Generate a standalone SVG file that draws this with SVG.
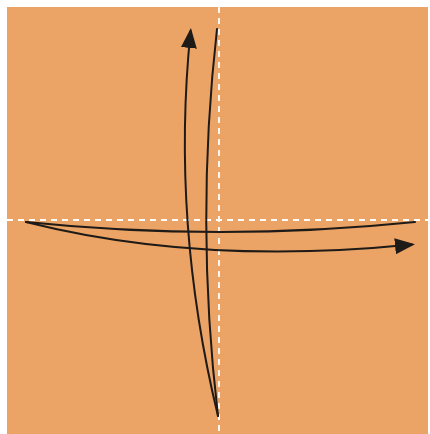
<svg xmlns="http://www.w3.org/2000/svg" width="430" height="434" viewBox="0 0 430 434">
  <defs>
    <style>
      .paper { fill: #EBA465; }
      .crease { stroke: #FFFFFF; stroke-width: 1.8; stroke-dasharray: 6 5; fill: none; }
      .arrow { stroke: #1E1A17; stroke-width: 2; fill: none; stroke-linecap: round; }
    </style>
    <marker id="head" markerUnits="userSpaceOnUse" markerWidth="22" markerHeight="16" refX="17" refY="8" orient="auto">
      <path d="M0,0 L20,8 L0,16 Z" fill="#1E1A17"/>
    </marker>
  </defs>
  <g id="paper">
    <rect class="paper" x="7" y="7" width="421" height="427"/>
  </g>
  <g id="creases">
    <line class="crease" x1="219" y1="7" x2="219" y2="434"/>
    <line class="crease" x1="7" y1="220" x2="428" y2="220"/>
  </g>
  <g id="connectors">
    <path class="arrow" d="M218,416 Q195,222 217,29"/>
    <path class="arrow" d="M218,416 Q171,222 190.6,31" marker-end="url(#head)"/>
    <path class="arrow" d="M26,222 Q220,242 415,222"/>
    <path class="arrow" d="M26,222 Q200,266 412,244.6" marker-end="url(#head)"/>
  </g>
</svg>
